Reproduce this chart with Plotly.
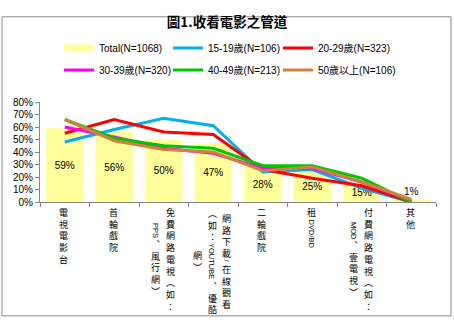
import plotly.graph_objects as go

# ---- data -------------------------------------------------------------
categories = ["電視電影台", "首輪戲院", "免費網路電視（如：PPS、風行網）",
              "網路下載/在線觀看（如：YOUTUBE、優酷網）", "二輪戲院", "租DVD/BD",
              "付費網路電視（如：MOD、壹電視）", "其他"]
# vertical label layout: columns listed right-to-left
label_columns = [
    ["電視電影台"],
    ["首輪戲院"],
    ["免費網路電視（如：", "PPS、風行網）"],
    ["網路下載/在線觀看", "（如：YOUTUBE、優酷", "網）"],
    ["二輪戲院"],
    ["租DVD/BD"],
    ["付費網路電視（如：", "MOD、壹電視）"],
    ["其他"],
]
total = [0.59, 0.56, 0.50, 0.47, 0.28, 0.25, 0.15, 0.01]
age_15_19 = [0.48, 0.58, 0.67, 0.61, 0.24, 0.26, 0.11, 0.00]
age_20_29 = [0.55, 0.66, 0.56, 0.54, 0.26, 0.19, 0.13, 0.00]
age_30_39 = [0.60, 0.52, 0.43, 0.39, 0.27, 0.27, 0.16, 0.01]
age_40_49 = [0.66, 0.51, 0.45, 0.43, 0.29, 0.29, 0.19, 0.00]
age_50_up = [0.66, 0.49, 0.42, 0.40, 0.25, 0.28, 0.16, 0.02]
y_ticks = [0, 0.1, 0.2, 0.3, 0.4, 0.5, 0.6, 0.7, 0.8]

series = [
    ("15-19歲(N=106)", age_15_19, "#00B0F0"),
    ("20-29歲(N=323)", age_20_29, "#FF0000"),
    ("30-39歲(N=320)", age_30_39, "#FF00FF"),
    ("40-49歲(N=213)", age_40_49, "#00C800"),
    ("50歲以上(N=106)", age_50_up, "#D2803C"),
]

W, H = 454, 328
ML, MR, MT, MB = 40, 18, 94, 126
PLOT_W, PLOT_H = W - ML - MR, H - MT - MB
LAT = "Liberation Sans, Noto Sans CJK TC, sans-serif"
CJK = "Noto Sans CJK TC, sans-serif"

# legend grid: one single-entry legend per slot (3 columns x 2 rows)
LEG_COL_X = [59, 168, 278]
LEG_ROW_Y = [48, 70]
legend_ids = ["legend", "legend2", "legend3", "legend4", "legend5", "legend6"]

fig = go.Figure()

fig.add_trace(go.Bar(
    x=categories, y=total, marker=dict(color="#FFFF99", line=dict(width=0)),
    texttemplate="%{y:.0%}",
    textposition=["inside" if v >= 0.05 else "outside" for v in total],
    insidetextanchor="middle", constraintext="none", cliponaxis=False,
    textfont=dict(family=LAT, size=10, color="black"),
    showlegend=False, name="Total(N=1068)",
))
# legend entry for the bar series drawn as a wide swatch
fig.add_trace(go.Scatter(
    x=[None], y=[None], mode="lines", name="Total(N=1068)",
    line=dict(color="#FFFF99", width=7), legend=legend_ids[0],
))
for (name, vals, color), leg in zip(series, legend_ids[1:]):
    fig.add_trace(go.Scatter(
        x=categories, y=vals, mode="lines", name=name,
        line=dict(color=color, width=3), legend=leg,
    ))

legend_layout = {}
for k, leg in enumerate(legend_ids):
    legend_layout[leg] = dict(
        orientation="h", x=LEG_COL_X[k % 3] / W, xref="container", xanchor="left",
        y=1 - LEG_ROW_Y[k // 3] / H, yref="container", yanchor="middle",
        itemwidth=30, font=dict(family=LAT, size=10, color="black"),
        bgcolor="rgba(0,0,0,0)", borderwidth=0)

# ---- vertical category labels ----------------------------------------
VERT = {"（": "︵", "）": "︶", "：": "︰", "、": "︑"}
CJK_SIZE = 9
CJK_PITCH = 1.3 * CJK_SIZE
LATIN_SIZE = 7.5
ARIAL_W = {"P": 667, "S": 667, "Y": 667, "O": 778, "U": 722, "T": 611, "B": 667,
           "E": 667, "D": 722, "V": 667, "M": 833, "/": 278}
COL_GAP = 14.5
LABEL_TOP = 5


def split_tokens(text):
    out, run, kind = [], "", None
    for ch in text:
        k = "latin" if ch.isascii() else "cjk"
        if k != kind and run:
            out.append((kind, run))
            run = ""
        kind = k
        run += ch
    if run:
        out.append((kind, run))
    return out


def token_len(tok):
    kind, s = tok
    if kind == "cjk":
        return CJK_PITCH * len(s)
    return sum(ARIAL_W.get(c, 600) for c in s) * LATIN_SIZE / 1000 + 2


annotations = []
for cat, cols in zip(categories, label_columns):
    toks = [split_tokens(c) for c in cols]
    lens = [sum(token_len(t) for t in tk) for tk in toks]
    block = max(lens)
    n = len(cols)
    for i, (tk, ln) in enumerate(zip(toks, lens)):
        xoff = (n - 1) / 2 * COL_GAP - i * COL_GAP - 1
        pos = LABEL_TOP + (block - ln) / 2
        for kind, s in tk:
            L = token_len((kind, s))
            common = dict(x=cat, xref="x", y=0, yref="paper", yanchor="middle",
                          xanchor="center", showarrow=False, xshift=xoff,
                          yshift=-(pos + L / 2), borderpad=0)
            if kind == "cjk":
                annotations.append(dict(
                    text="<br>".join(VERT.get(c, c) for c in s),
                    font=dict(family=CJK, size=CJK_SIZE, color="black"), **common))
            else:
                annotations.append(dict(
                    text=s, textangle=90,
                    font=dict(family=LAT, size=LATIN_SIZE, color="black"), **common))
            pos += L

axis_col = "#868686"
fig.update_layout(
    width=W, height=H,
    margin=dict(l=ML, r=MR, t=MT, b=MB, pad=0),
    paper_bgcolor="white", plot_bgcolor="white",
    title=dict(text="<b>圖1.收看電影之管道</b>", x=0.5, xref="container",
               y=1 - 22 / H, yref="container", yanchor="middle", xanchor="center",
               font=dict(family=CJK, size=13.5, color="black")),
    bargap=0.25,
    xaxis=dict(showticklabels=False, ticks="outside", tickson="boundaries",
               ticklen=4, tickcolor=axis_col, showline=True, linecolor=axis_col,
               linewidth=1, showgrid=False, zeroline=False, fixedrange=True),
    yaxis=dict(range=[0, 0.8], tickvals=y_ticks, tickformat=".0%",
               ticks="outside", ticklen=4, tickcolor=axis_col, showline=True,
               linecolor=axis_col, linewidth=1, showgrid=False, zeroline=False,
               tickfont=dict(family=LAT, size=10, color="black")),
    annotations=annotations,
    shapes=[dict(type="rect", xref="paper", yref="paper",
                 x0=(2 - ML) / PLOT_W, x1=(451 - ML) / PLOT_W,
                 y0=(H - MB - 325) / PLOT_H, y1=(H - MB - 2) / PLOT_H,
                 line=dict(color="#888888", width=1), layer="below")],
    **legend_layout,
)

fig.write_html("out.html")
